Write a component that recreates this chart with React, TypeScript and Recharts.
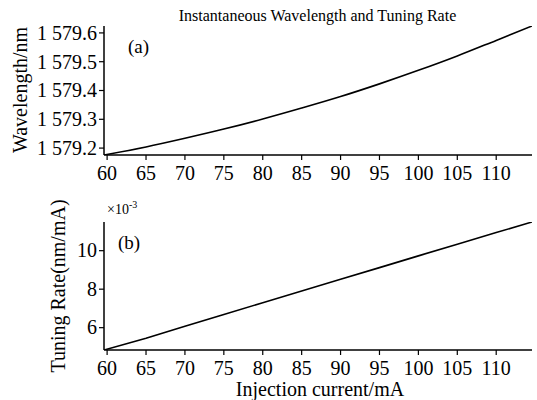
import React from "react";
import { LineChart, Line, XAxis, YAxis } from "recharts";

const currents = [59.6, 65, 70, 75, 80, 85, 90, 95, 100, 105, 110, 114.6];
const wavelengths = [1579.176, 1579.204, 1579.234, 1579.266, 1579.301, 1579.339, 1579.379, 1579.423, 1579.47, 1579.52, 1579.574, 1579.624];
const tuningRates = [4.84, 5.45, 6.07, 6.68, 7.3, 7.9, 8.52, 9.12, 9.73, 10.33, 10.94, 11.49];
const xTicks = [60, 65, 70, 75, 80, 85, 90, 95, 100, 105, 110];
const wlTicks = [1579.2, 1579.3, 1579.4, 1579.5, 1579.6];
const rateTicks = [6, 8, 10];

const data = currents.map((c, i) => ({ x: c, wl: wavelengths[i], rate: tuningRates[i] }));

const FONT = "'Liberation Serif', 'Times New Roman', serif";
const TICK_FS = 20;
const axisLine = { stroke: "#000", strokeWidth: 1.5 };
const tickLine = { stroke: "#000", strokeWidth: 1.2 };

function XTick(props: any) {
  const { x, y, payload } = props;
  return (
    <text x={x} y={y} dy="0.68em" textAnchor="middle" style={{ fontFamily: FONT, fontSize: TICK_FS, fill: "#000" }}>
      {String(payload.value)}
    </text>
  );
}

function WlTick(props: any) {
  const { x, y, payload } = props;
  return (
    <text x={x} y={y} dy="0.34em" textAnchor="end" style={{ fontFamily: FONT, fontSize: TICK_FS, fill: "#000" }}>
      {`1 ${(payload.value - 1000).toFixed(1)}`}
    </text>
  );
}

function RateTick(props: any) {
  const { x, y, payload } = props;
  return (
    <text x={x} y={y} dy="0.34em" textAnchor="end" style={{ fontFamily: FONT, fontSize: TICK_FS, fill: "#000" }}>
      {String(payload.value)}
    </text>
  );
}

export default function App() {
  return (
    <div style={{ position: "fixed", left: 0, top: 0, width: 537, height: 400, background: "#fff", fontFamily: FONT }}>
      <div style={{ position: "absolute", left: 0, top: 0 }}>
        <LineChart width={537} height={190} data={data} margin={{ top: 26, right: 5, bottom: 0, left: 0 }}>
          <XAxis
            dataKey="x"
            type="number"
            domain={[59.6, 114.6]}
            ticks={xTicks}
            allowDataOverflow
            height={35}
            tick={<XTick />}
            tickSize={5}
            tickMargin={6}
            axisLine={axisLine}
            tickLine={tickLine}
          />
          <YAxis
            type="number"
            domain={[1579.176, 1579.624]}
            ticks={wlTicks}
            allowDataOverflow
            width={104}
            tick={<WlTick />}
            tickSize={5}
            tickMargin={2}
            axisLine={axisLine}
            tickLine={tickLine}
          />
          <Line dataKey="wl" type="monotone" stroke="#000" strokeWidth={1.6} dot={false} isAnimationActive={false} />
        </LineChart>
      </div>
      <div style={{ position: "absolute", left: 0, top: 190 }}>
        <LineChart width={537} height={210} data={data} margin={{ top: 32, right: 5, bottom: 0, left: 0 }}>
          <XAxis
            dataKey="x"
            type="number"
            domain={[59.6, 114.6]}
            ticks={xTicks}
            allowDataOverflow
            height={50}
            tick={<XTick />}
            tickSize={5}
            tickMargin={6}
            axisLine={axisLine}
            tickLine={tickLine}
          />
          <YAxis
            type="number"
            domain={[4.84, 11.49]}
            ticks={rateTicks}
            allowDataOverflow
            width={104}
            tick={<RateTick />}
            tickSize={5}
            tickMargin={2}
            axisLine={axisLine}
            tickLine={tickLine}
          />
          <Line dataKey="rate" type="linear" stroke="#000" strokeWidth={1.6} dot={false} isAnimationActive={false} />
        </LineChart>
      </div>
      <svg
        width={537}
        height={400}
        style={{ position: "absolute", left: 0, top: 0, pointerEvents: "none" }}
        fontFamily={FONT}
      >
        <text x={317.5} y={21} textAnchor="middle" fontSize={16} fill="#000">
          Instantaneous Wavelength and Tuning Rate
        </text>
        <text x={128} y={53} fontSize={19} fill="#000">(a)</text>
        <text x={118} y={249} fontSize={19} fill="#000">(b)</text>
        <text x={107} y={214} fontSize={14} fill="#000">
          ×10<tspan dy={-6} fontSize={10}>-3</tspan>
        </text>
        <text x={27} y={90} fontSize={20} fill="#000" textAnchor="middle" transform="rotate(-90 27 90)">
          Wavelength/nm
        </text>
        <text x={65} y={286} fontSize={20} fill="#000" textAnchor="middle" transform="rotate(-90 65 286)">
          Tuning Rate(nm/mA)
        </text>
        <text x={320} y={396} fontSize={20} fill="#000" textAnchor="middle">
          Injection current/mA
        </text>
      </svg>
    </div>
  );
}
